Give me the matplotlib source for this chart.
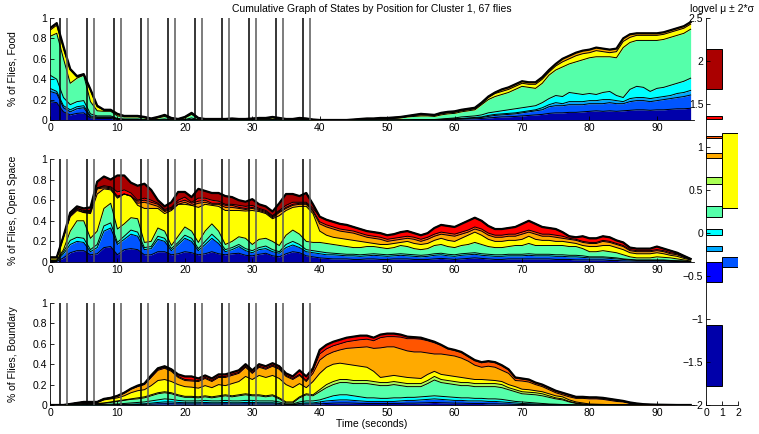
import matplotlib
matplotlib.use('Agg')
import matplotlib.pyplot as plt
import numpy as np

plt.rcParams['font.family'] = ['Liberation Sans', 'DejaVu Sans']
plt.rcParams['font.size'] = 7.5

# jet(12): state 1 (slowest) .. state 12 (fastest)
state_colors = [(0, 0, 0.667), (0, 0, 1), (0, 0.333, 1), (0, 0.667, 1),
                (0, 1, 1), (0.333, 1, 0.667), (0.667, 1, 0.333), (1, 1, 0),
                (1, 0.667, 0), (1, 0.333, 0), (1, 0, 0), (0.667, 0, 0)]

time_s = np.arange(0, 96)

# cumulative fraction of flies up to state k, one value per second
food_c1 = [0.18, 0.17, 0.08, 0.05, 0.065, 0.07, 0.02, 0.015, 0.015, 0.015,
           0.005, 0.002, 0.002, 0.002, 0, 0, 0, 0, 0, 0,
           0, 0, 0, 0, 0, 0, 0, 0, 0, 0,
           0, 0, 0, 0, 0, 0, 0, 0, 0, 0,
           0, 0, 0, 0, 0, 0, 0, 0, 0, 0,
           0, 0, 0, 0, 0, 0, 0, 0, 0.003, 0.005,
           0.006, 0.008, 0.01, 0.012, 0.015, 0.02, 0.025, 0.03, 0.032, 0.035,
           0.04, 0.045, 0.05, 0.055, 0.065, 0.07, 0.07, 0.075, 0.075, 0.08,
           0.085, 0.09, 0.085, 0.09, 0.085, 0.09, 0.095, 0.10, 0.10, 0.095,
           0.10, 0.10, 0.105, 0.11, 0.11, 0.115]
food_c3 = [0.28, 0.26, 0.12, 0.08, 0.11, 0.12, 0.03, 0.025, 0.025, 0.025,
           0.008, 0.004, 0.004, 0.004, 0, 0, 0, 0, 0, 0,
           0, 0, 0, 0, 0, 0, 0, 0, 0, 0,
           0, 0, 0, 0, 0, 0, 0, 0, 0, 0,
           0, 0, 0, 0, 0, 0, 0, 0, 0, 0,
           0, 0, 0, 0, 0, 0, 0, 0, 0.004, 0.008,
           0.01, 0.012, 0.015, 0.02, 0.025, 0.035, 0.045, 0.05, 0.055, 0.06,
           0.07, 0.08, 0.09, 0.10, 0.13, 0.14, 0.14, 0.15, 0.15, 0.15,
           0.16, 0.16, 0.16, 0.17, 0.16, 0.16, 0.18, 0.19, 0.19, 0.18,
           0.19, 0.20, 0.21, 0.22, 0.23, 0.245]
food_c4 = [0.31, 0.28, 0.14, 0.10, 0.13, 0.14, 0.04, 0.03, 0.03, 0.03,
           0.01, 0.005, 0.005, 0.005, 0, 0, 0, 0, 0, 0,
           0, 0.005, 0, 0, 0, 0, 0, 0, 0, 0,
           0, 0, 0, 0, 0, 0, 0, 0, 0, 0,
           0, 0, 0, 0, 0, 0, 0, 0, 0, 0,
           0, 0, 0, 0, 0, 0, 0, 0, 0.005, 0.01,
           0.012, 0.015, 0.02, 0.025, 0.03, 0.045, 0.055, 0.06, 0.065, 0.07,
           0.08, 0.09, 0.10, 0.12, 0.15, 0.17, 0.16, 0.18, 0.18, 0.18,
           0.19, 0.19, 0.20, 0.20, 0.19, 0.18, 0.21, 0.22, 0.22, 0.21,
           0.22, 0.23, 0.24, 0.26, 0.27, 0.29]
food_c5 = [0.44, 0.40, 0.22, 0.15, 0.18, 0.19, 0.06, 0.04, 0.04, 0.04,
           0.015, 0.01, 0.01, 0.01, 0.005, 0, 0.005, 0.01, 0, 0,
           0.005, 0.02, 0, 0, 0, 0, 0, 0, 0, 0,
           0, 0, 0, 0.005, 0, 0, 0, 0, 0, 0,
           0, 0, 0, 0, 0, 0, 0, 0, 0, 0,
           0, 0, 0, 0, 0.005, 0.005, 0.005, 0.005, 0.01, 0.015,
           0.02, 0.03, 0.035, 0.04, 0.05, 0.07, 0.08, 0.09, 0.10, 0.11,
           0.12, 0.13, 0.14, 0.17, 0.21, 0.24, 0.23, 0.27, 0.26, 0.25,
           0.26, 0.25, 0.27, 0.28, 0.24, 0.22, 0.30, 0.33, 0.32, 0.28,
           0.31, 0.32, 0.34, 0.36, 0.38, 0.41]
food_c6 = [0.82, 0.85, 0.60, 0.36, 0.41, 0.44, 0.18, 0.09, 0.085, 0.085,
           0.04, 0.03, 0.03, 0.03, 0.02, 0.005, 0.02, 0.035, 0.01, 0.005,
           0.02, 0.055, 0.01, 0.005, 0.005, 0.005, 0.005, 0.008, 0.005, 0.005,
           0.008, 0.01, 0.01, 0.02, 0.01, 0.005, 0.005, 0.01, 0.008, 0,
           0, 0, 0, 0, 0, 0.003, 0.006, 0.01, 0.01, 0.012,
           0.012, 0.015, 0.02, 0.03, 0.035, 0.04, 0.04, 0.035, 0.05, 0.06,
           0.065, 0.08, 0.09, 0.10, 0.15, 0.20, 0.23, 0.25, 0.27, 0.30,
           0.33, 0.32, 0.31, 0.36, 0.44, 0.49, 0.52, 0.55, 0.57, 0.59,
           0.61, 0.62, 0.62, 0.62, 0.61, 0.71, 0.76, 0.78, 0.78, 0.78,
           0.78, 0.79, 0.81, 0.83, 0.85, 0.89]
food_c8 = [0.88, 0.93, 0.70, 0.49, 0.42, 0.44, 0.29, 0.13, 0.095, 0.095,
           0.055, 0.035, 0.035, 0.035, 0.025, 0.01, 0.025, 0.045, 0.015, 0.008,
           0.025, 0.065, 0.015, 0.008, 0.008, 0.008, 0.008, 0.012, 0.008, 0.008,
           0.012, 0.015, 0.015, 0.025, 0.015, 0.008, 0.008, 0.015, 0.012, 0.003,
           0, 0, 0, 0, 0, 0.004, 0.008, 0.012, 0.012, 0.015,
           0.015, 0.02, 0.025, 0.035, 0.045, 0.05, 0.05, 0.045, 0.06, 0.07,
           0.075, 0.09, 0.10, 0.11, 0.16, 0.22, 0.26, 0.28, 0.30, 0.33,
           0.36, 0.35, 0.35, 0.40, 0.47, 0.53, 0.57, 0.60, 0.63, 0.65,
           0.66, 0.68, 0.67, 0.66, 0.67, 0.77, 0.81, 0.83, 0.83, 0.83,
           0.83, 0.84, 0.86, 0.88, 0.90, 0.94]
food_top = [0.90, 0.95, 0.72, 0.50, 0.43, 0.45, 0.30, 0.14, 0.10, 0.10,
            0.06, 0.04, 0.04, 0.04, 0.03, 0.015, 0.03, 0.05, 0.02, 0.01,
            0.03, 0.07, 0.02, 0.01, 0.01, 0.01, 0.01, 0.015, 0.01, 0.01,
            0.015, 0.02, 0.02, 0.03, 0.02, 0.01, 0.01, 0.02, 0.015, 0.005,
            0, 0, 0, 0, 0, 0.005, 0.01, 0.015, 0.015, 0.02,
            0.02, 0.025, 0.03, 0.04, 0.05, 0.06, 0.055, 0.05, 0.07, 0.08,
            0.085, 0.10, 0.11, 0.12, 0.17, 0.23, 0.27, 0.30, 0.32, 0.35,
            0.38, 0.37, 0.37, 0.42, 0.49, 0.55, 0.60, 0.63, 0.66, 0.68,
            0.69, 0.71, 0.70, 0.69, 0.70, 0.80, 0.84, 0.85, 0.85, 0.85,
            0.85, 0.86, 0.88, 0.90, 0.92, 0.96]

open_c1 = [0.005, 0.005, 0.04, 0.09, 0.11, 0.11, 0.07, 0.08, 0.14, 0.15,
           0.07, 0.12, 0.13, 0.12, 0.07, 0.07, 0.10, 0.10, 0.07, 0.08,
           0.10, 0.09, 0.07, 0.08, 0.10, 0.08, 0.07, 0.08, 0.085, 0.065,
           0.06, 0.075, 0.085, 0.06, 0.05, 0.08, 0.10, 0.09, 0.06, 0.05,
           0.04, 0.035, 0.03, 0.03, 0.03, 0.025, 0.025, 0.03, 0.03, 0.025,
           0.025, 0.03, 0.03, 0.03, 0.025, 0.025, 0.025, 0.03, 0.035, 0.03,
           0.025, 0.03, 0.035, 0.04, 0.035, 0.03, 0.025, 0.025, 0.03, 0.03,
           0.03, 0.03, 0.03, 0.03, 0.03, 0.025, 0.025, 0.025, 0.02, 0.02,
           0.02, 0.02, 0.02, 0.015, 0.015, 0.01, 0.01, 0.008, 0.008, 0.008,
           0.008, 0.008, 0.006, 0.005, 0.004, 0.002]
open_c3 = [0.01, 0.01, 0.08, 0.17, 0.20, 0.19, 0.10, 0.14, 0.30, 0.33,
           0.17, 0.22, 0.27, 0.25, 0.12, 0.13, 0.22, 0.20, 0.11, 0.17,
           0.23, 0.20, 0.11, 0.17, 0.23, 0.18, 0.10, 0.12, 0.15, 0.11,
           0.09, 0.12, 0.13, 0.10, 0.085, 0.14, 0.165, 0.14, 0.10, 0.09,
           0.08, 0.07, 0.07, 0.065, 0.06, 0.06, 0.055, 0.06, 0.065, 0.06,
           0.055, 0.06, 0.065, 0.06, 0.055, 0.05, 0.055, 0.065, 0.07, 0.06,
           0.055, 0.065, 0.07, 0.075, 0.065, 0.06, 0.055, 0.055, 0.06, 0.06,
           0.06, 0.065, 0.06, 0.06, 0.06, 0.055, 0.055, 0.05, 0.05, 0.045,
           0.04, 0.04, 0.04, 0.035, 0.03, 0.025, 0.02, 0.015, 0.015, 0.015,
           0.015, 0.015, 0.012, 0.01, 0.008, 0.004]
open_c5 = [0.015, 0.015, 0.10, 0.21, 0.24, 0.23, 0.12, 0.17, 0.35, 0.38,
           0.19, 0.25, 0.31, 0.29, 0.14, 0.15, 0.25, 0.23, 0.13, 0.19,
           0.26, 0.23, 0.13, 0.20, 0.27, 0.21, 0.12, 0.14, 0.17, 0.13,
           0.11, 0.14, 0.155, 0.12, 0.10, 0.17, 0.20, 0.17, 0.12, 0.11,
           0.10, 0.09, 0.085, 0.08, 0.075, 0.075, 0.07, 0.075, 0.08, 0.075,
           0.07, 0.075, 0.08, 0.075, 0.07, 0.065, 0.07, 0.08, 0.085, 0.075,
           0.07, 0.08, 0.085, 0.09, 0.08, 0.075, 0.07, 0.07, 0.075, 0.075,
           0.075, 0.08, 0.075, 0.075, 0.075, 0.07, 0.07, 0.065, 0.065, 0.06,
           0.05, 0.05, 0.05, 0.045, 0.04, 0.03, 0.025, 0.02, 0.02, 0.02,
           0.02, 0.02, 0.015, 0.012, 0.01, 0.005]
open_c6 = [0.02, 0.02, 0.12, 0.30, 0.40, 0.40, 0.23, 0.30, 0.52, 0.57,
           0.32, 0.37, 0.43, 0.42, 0.19, 0.20, 0.33, 0.30, 0.16, 0.25,
           0.34, 0.30, 0.19, 0.30, 0.37, 0.30, 0.17, 0.20, 0.245, 0.23,
           0.17, 0.22, 0.23, 0.20, 0.16, 0.26, 0.31, 0.27, 0.20, 0.19,
           0.19, 0.18, 0.17, 0.16, 0.15, 0.14, 0.14, 0.15, 0.15, 0.14,
           0.13, 0.14, 0.16, 0.15, 0.13, 0.12, 0.13, 0.16, 0.17, 0.15,
           0.14, 0.16, 0.17, 0.19, 0.17, 0.15, 0.14, 0.14, 0.15, 0.16,
           0.16, 0.18, 0.16, 0.16, 0.16, 0.16, 0.16, 0.15, 0.15, 0.13,
           0.10, 0.10, 0.11, 0.10, 0.09, 0.07, 0.05, 0.04, 0.04, 0.04,
           0.05, 0.045, 0.04, 0.03, 0.02, 0.01]
open_c8 = [0.04, 0.04, 0.24, 0.44, 0.50, 0.48, 0.47, 0.66, 0.71, 0.70,
           0.62, 0.66, 0.64, 0.55, 0.52, 0.52, 0.52, 0.47, 0.50, 0.56,
           0.56, 0.55, 0.53, 0.56, 0.55, 0.54, 0.50, 0.50, 0.50, 0.495,
           0.50, 0.49, 0.47, 0.42, 0.45, 0.50, 0.53, 0.54, 0.54, 0.47,
           0.30, 0.26, 0.24, 0.23, 0.22, 0.21, 0.20, 0.19, 0.18, 0.17,
           0.17, 0.18, 0.19, 0.20, 0.18, 0.17, 0.18, 0.21, 0.23, 0.21,
           0.20, 0.23, 0.26, 0.29, 0.26, 0.22, 0.20, 0.20, 0.21, 0.21,
           0.22, 0.25, 0.22, 0.21, 0.21, 0.20, 0.20, 0.19, 0.18, 0.16,
           0.15, 0.15, 0.16, 0.16, 0.14, 0.12, 0.09, 0.08, 0.08, 0.08,
           0.09, 0.08, 0.065, 0.055, 0.035, 0.02]
open_c9 = [0.045, 0.045, 0.25, 0.45, 0.51, 0.48, 0.48, 0.71, 0.72, 0.71,
           0.63, 0.65, 0.63, 0.57, 0.58, 0.56, 0.54, 0.49, 0.51, 0.56,
           0.58, 0.55, 0.57, 0.58, 0.56, 0.56, 0.53, 0.53, 0.52, 0.51,
           0.52, 0.50, 0.48, 0.43, 0.48, 0.52, 0.55, 0.56, 0.56, 0.49,
           0.37, 0.34, 0.32, 0.30, 0.29, 0.28, 0.26, 0.24, 0.23, 0.22,
           0.20, 0.21, 0.22, 0.23, 0.22, 0.20, 0.22, 0.25, 0.27, 0.26,
           0.25, 0.27, 0.29, 0.32, 0.30, 0.26, 0.24, 0.24, 0.25, 0.25,
           0.27, 0.29, 0.27, 0.25, 0.25, 0.24, 0.23, 0.22, 0.21, 0.19,
           0.18, 0.18, 0.20, 0.19, 0.17, 0.15, 0.11, 0.10, 0.10, 0.10,
           0.11, 0.10, 0.08, 0.07, 0.045, 0.025]
open_c10 = [0.045, 0.045, 0.25, 0.46, 0.52, 0.49, 0.49, 0.72, 0.73, 0.72,
            0.64, 0.66, 0.64, 0.59, 0.60, 0.58, 0.56, 0.50, 0.52, 0.58,
            0.60, 0.57, 0.59, 0.60, 0.57, 0.57, 0.55, 0.55, 0.53, 0.52,
            0.53, 0.51, 0.49, 0.44, 0.49, 0.53, 0.56, 0.57, 0.57, 0.50,
            0.39, 0.36, 0.34, 0.32, 0.31, 0.30, 0.28, 0.26, 0.25, 0.24,
            0.22, 0.23, 0.24, 0.25, 0.24, 0.22, 0.24, 0.27, 0.29, 0.28,
            0.27, 0.29, 0.31, 0.34, 0.32, 0.28, 0.26, 0.26, 0.27, 0.27,
            0.29, 0.31, 0.29, 0.27, 0.27, 0.26, 0.25, 0.23, 0.22, 0.20,
            0.19, 0.19, 0.21, 0.20, 0.18, 0.16, 0.12, 0.11, 0.11, 0.11,
            0.12, 0.11, 0.09, 0.08, 0.05, 0.03]
open_c11 = [0.045, 0.045, 0.25, 0.46, 0.52, 0.50, 0.50, 0.72, 0.74, 0.73,
            0.68, 0.70, 0.67, 0.60, 0.62, 0.60, 0.57, 0.51, 0.53, 0.60,
            0.63, 0.58, 0.62, 0.62, 0.60, 0.59, 0.56, 0.56, 0.55, 0.54,
            0.55, 0.52, 0.50, 0.45, 0.50, 0.55, 0.58, 0.58, 0.58, 0.52,
            0.44, 0.41, 0.39, 0.37, 0.36, 0.34, 0.32, 0.30, 0.29, 0.28,
            0.26, 0.27, 0.29, 0.30, 0.28, 0.26, 0.28, 0.33, 0.36, 0.35,
            0.34, 0.37, 0.40, 0.43, 0.40, 0.35, 0.32, 0.32, 0.33, 0.34,
            0.37, 0.40, 0.37, 0.34, 0.33, 0.32, 0.29, 0.25, 0.24, 0.25,
            0.23, 0.23, 0.25, 0.24, 0.21, 0.19, 0.14, 0.13, 0.13, 0.13,
            0.15, 0.13, 0.11, 0.09, 0.06, 0.03]
open_top = [0.045, 0.045, 0.25, 0.48, 0.54, 0.52, 0.53, 0.78, 0.83, 0.80,
            0.84, 0.84, 0.77, 0.74, 0.76, 0.70, 0.60, 0.54, 0.58, 0.68,
            0.68, 0.63, 0.71, 0.69, 0.67, 0.67, 0.64, 0.63, 0.60, 0.585,
            0.61, 0.56, 0.54, 0.49, 0.57, 0.66, 0.66, 0.64, 0.67, 0.56,
            0.44, 0.41, 0.39, 0.37, 0.36, 0.34, 0.32, 0.30, 0.29, 0.28,
            0.26, 0.27, 0.29, 0.30, 0.28, 0.26, 0.28, 0.33, 0.36, 0.35,
            0.34, 0.37, 0.40, 0.43, 0.40, 0.35, 0.32, 0.32, 0.33, 0.34,
            0.37, 0.40, 0.37, 0.34, 0.33, 0.32, 0.29, 0.25, 0.24, 0.25,
            0.23, 0.23, 0.25, 0.24, 0.21, 0.19, 0.14, 0.13, 0.13, 0.13,
            0.15, 0.13, 0.11, 0.09, 0.06, 0.03]

bound_c1 = [0, 0, 0, 0, 0, 0, 0, 0, 0, 0,
            0.002, 0.003, 0.004, 0.005, 0.006, 0.008, 0.01, 0.012, 0.012, 0.01,
            0.01, 0.01, 0.01, 0.01, 0.01, 0.01, 0.01, 0.01, 0.01, 0.01,
            0.01, 0.01, 0.01, 0.01, 0.008, 0.003, 0.003, 0.008, 0.01, 0.01,
            0.012, 0.015, 0.018, 0.02, 0.02, 0.018, 0.016, 0.015, 0.015, 0.015,
            0.015, 0.015, 0.016, 0.018, 0.018, 0.02, 0.022, 0.025, 0.022, 0.02,
            0.018, 0.018, 0.016, 0.015, 0.015, 0.012, 0.012, 0.01, 0.008, 0.006,
            0.005, 0.004, 0.003, 0.002, 0.001, 0.001, 0, 0, 0, 0,
            0, 0, 0, 0, 0, 0, 0, 0, 0, 0,
            0, 0, 0, 0, 0, 0]
bound_c3 = [0, 0, 0, 0, 0, 0, 0, 0, 0, 0,
            0.004, 0.006, 0.008, 0.01, 0.012, 0.018, 0.025, 0.03, 0.03, 0.025,
            0.022, 0.022, 0.022, 0.025, 0.022, 0.022, 0.025, 0.022, 0.022, 0.025,
            0.025, 0.022, 0.022, 0.022, 0.015, 0.005, 0.005, 0.015, 0.02, 0.02,
            0.03, 0.04, 0.045, 0.05, 0.05, 0.045, 0.04, 0.035, 0.035, 0.035,
            0.035, 0.035, 0.04, 0.045, 0.045, 0.05, 0.055, 0.06, 0.055, 0.05,
            0.045, 0.045, 0.04, 0.04, 0.04, 0.035, 0.035, 0.03, 0.025, 0.02,
            0.015, 0.012, 0.01, 0.008, 0.005, 0.004, 0.002, 0.001, 0, 0,
            0, 0, 0, 0, 0, 0, 0, 0, 0, 0,
            0, 0, 0, 0, 0, 0]
bound_c5 = [0, 0, 0, 0, 0.002, 0.004, 0.004, 0.004, 0.006, 0.008,
            0.01, 0.015, 0.02, 0.025, 0.03, 0.04, 0.05, 0.06, 0.055, 0.045,
            0.04, 0.04, 0.04, 0.045, 0.04, 0.04, 0.045, 0.04, 0.04, 0.045,
            0.045, 0.04, 0.04, 0.04, 0.03, 0.01, 0.01, 0.03, 0.04, 0.04,
            0.05, 0.07, 0.09, 0.10, 0.10, 0.09, 0.08, 0.07, 0.07, 0.065,
            0.065, 0.07, 0.07, 0.075, 0.075, 0.08, 0.085, 0.09, 0.085, 0.08,
            0.075, 0.07, 0.07, 0.065, 0.065, 0.06, 0.06, 0.055, 0.045, 0.035,
            0.03, 0.025, 0.02, 0.015, 0.01, 0.008, 0.005, 0.003, 0.001, 0,
            0, 0, 0, 0, 0, 0, 0, 0, 0, 0,
            0, 0, 0, 0, 0, 0]
bound_c6 = [0, 0, 0, 0.004, 0.008, 0.012, 0.012, 0.012, 0.017, 0.025,
            0.035, 0.045, 0.055, 0.06, 0.07, 0.09, 0.11, 0.12, 0.11, 0.09,
            0.075, 0.075, 0.07, 0.08, 0.07, 0.08, 0.09, 0.08, 0.09, 0.10,
            0.09, 0.09, 0.08, 0.09, 0.06, 0.02, 0.02, 0.07, 0.10, 0.09,
            0.13, 0.17, 0.20, 0.22, 0.22, 0.21, 0.21, 0.21, 0.20, 0.19,
            0.19, 0.20, 0.19, 0.18, 0.18, 0.18, 0.21, 0.245, 0.22, 0.21,
            0.20, 0.19, 0.19, 0.18, 0.18, 0.18, 0.18, 0.17, 0.15, 0.13,
            0.11, 0.105, 0.10, 0.09, 0.075, 0.06, 0.05, 0.03, 0.015, 0.008,
            0.004, 0.003, 0.002, 0.001, 0, 0, 0, 0, 0, 0,
            0, 0, 0, 0, 0, 0]
bound_c7 = [0, 0, 0, 0.005, 0.01, 0.015, 0.015, 0.015, 0.02, 0.03,
            0.04, 0.05, 0.06, 0.07, 0.08, 0.10, 0.12, 0.13, 0.12, 0.10,
            0.085, 0.085, 0.08, 0.09, 0.08, 0.09, 0.10, 0.09, 0.10, 0.11,
            0.10, 0.10, 0.09, 0.10, 0.07, 0.03, 0.03, 0.08, 0.11, 0.10,
            0.15, 0.20, 0.23, 0.25, 0.25, 0.24, 0.24, 0.24, 0.23, 0.22,
            0.22, 0.23, 0.22, 0.21, 0.21, 0.21, 0.24, 0.28, 0.25, 0.24,
            0.23, 0.22, 0.22, 0.21, 0.21, 0.21, 0.21, 0.20, 0.17, 0.15,
            0.13, 0.125, 0.12, 0.11, 0.09, 0.07, 0.06, 0.035, 0.02, 0.01,
            0.005, 0.004, 0.003, 0.002, 0.001, 0, 0, 0, 0, 0,
            0, 0, 0, 0, 0, 0]
bound_c8 = [0, 0, 0, 0.01, 0.02, 0.025, 0.025, 0.025, 0.05, 0.06,
            0.07, 0.09, 0.12, 0.14, 0.15, 0.19, 0.24, 0.25, 0.23, 0.20,
            0.18, 0.175, 0.165, 0.19, 0.17, 0.20, 0.19, 0.21, 0.23, 0.28,
            0.25, 0.29, 0.27, 0.29, 0.26, 0.20, 0.17, 0.21, 0.17, 0.23,
            0.31, 0.37, 0.40, 0.41, 0.40, 0.39, 0.38, 0.37, 0.33, 0.27,
            0.28, 0.29, 0.28, 0.27, 0.265, 0.26, 0.30, 0.33, 0.30, 0.29,
            0.28, 0.27, 0.26, 0.25, 0.25, 0.245, 0.24, 0.23, 0.20, 0.18,
            0.155, 0.15, 0.14, 0.13, 0.11, 0.09, 0.08, 0.05, 0.03, 0.02,
            0.01, 0.008, 0.006, 0.004, 0.003, 0.002, 0, 0, 0, 0,
            0, 0, 0, 0, 0, 0]
bound_c9 = [0, 0, 0, 0.01, 0.02, 0.03, 0.03, 0.03, 0.06, 0.07,
            0.085, 0.115, 0.155, 0.18, 0.20, 0.27, 0.34, 0.36, 0.33, 0.27,
            0.24, 0.235, 0.23, 0.26, 0.23, 0.27, 0.27, 0.29, 0.31, 0.37,
            0.31, 0.37, 0.35, 0.38, 0.35, 0.28, 0.25, 0.29, 0.23, 0.31,
            0.44, 0.49, 0.52, 0.54, 0.555, 0.56, 0.565, 0.57, 0.555, 0.56,
            0.57, 0.57, 0.55, 0.53, 0.52, 0.52, 0.51, 0.50, 0.50, 0.49,
            0.48, 0.46, 0.43, 0.39, 0.37, 0.38, 0.37, 0.34, 0.31, 0.24,
            0.235, 0.225, 0.20, 0.18, 0.15, 0.12, 0.10, 0.08, 0.065, 0.065,
            0.06, 0.06, 0.055, 0.045, 0.035, 0.03, 0.015, 0.008, 0.004, 0.002,
            0.001, 0, 0, 0, 0, 0]
bound_c10 = [0, 0, 0, 0.01, 0.02, 0.03, 0.03, 0.03, 0.06, 0.07,
             0.09, 0.12, 0.16, 0.185, 0.205, 0.28, 0.35, 0.37, 0.34, 0.28,
             0.25, 0.245, 0.24, 0.27, 0.24, 0.28, 0.28, 0.30, 0.32, 0.38,
             0.32, 0.38, 0.36, 0.39, 0.36, 0.29, 0.26, 0.30, 0.24, 0.34,
             0.50, 0.55, 0.58, 0.60, 0.62, 0.63, 0.64, 0.645, 0.63, 0.66,
             0.67, 0.67, 0.665, 0.65, 0.65, 0.645, 0.63, 0.61, 0.585, 0.55,
             0.535, 0.515, 0.475, 0.435, 0.415, 0.425, 0.415, 0.385, 0.345, 0.265,
             0.255, 0.245, 0.215, 0.195, 0.165, 0.135, 0.115, 0.095, 0.075, 0.075,
             0.07, 0.07, 0.065, 0.055, 0.045, 0.035, 0.02, 0.012, 0.006, 0.004,
             0.002, 0.001, 0, 0, 0, 0]
bound_top = [0, 0, 0, 0.01, 0.02, 0.03, 0.03, 0.03, 0.06, 0.07,
             0.09, 0.12, 0.16, 0.19, 0.21, 0.29, 0.36, 0.38, 0.35, 0.30,
             0.28, 0.28, 0.26, 0.29, 0.26, 0.30, 0.30, 0.32, 0.34, 0.40,
             0.34, 0.40, 0.38, 0.41, 0.38, 0.31, 0.28, 0.34, 0.28, 0.36,
             0.54, 0.59, 0.62, 0.64, 0.66, 0.67, 0.68, 0.68, 0.66, 0.69,
             0.70, 0.70, 0.69, 0.67, 0.665, 0.66, 0.64, 0.62, 0.59, 0.555,
             0.54, 0.52, 0.48, 0.44, 0.42, 0.43, 0.42, 0.39, 0.35, 0.27,
             0.26, 0.25, 0.22, 0.20, 0.17, 0.14, 0.12, 0.10, 0.08, 0.08,
             0.075, 0.075, 0.07, 0.06, 0.05, 0.04, 0.025, 0.015, 0.008, 0.005,
             0.003, 0.002, 0.001, 0, 0, 0]

# stimulus on / off times (seconds)
stim_on = [1.5, 5.5, 9.5, 13.5, 17.5, 21.5, 25.5, 29.5, 33.5, 37.5]
stim_off = [2.5, 6.5, 10.5, 14.5, 18.5, 22.5, 26.5, 30.5, 34.5, 38.5]

# logvel mean +- 2 sigma per state
bar_state = [1, 2, 3, 4, 5, 6, 7, 8, 9, 10, 11, 12]
bar_lo = [-1.78, -0.57, -0.40, -0.21, -0.02, 0.19, 0.57, 0.29, 0.87, 1.10, 1.32, 1.67]
bar_hi = [-1.07, -0.34, -0.28, -0.15, 0.05, 0.31, 0.65, 1.16, 0.93, 1.13, 1.36, 2.14]
bar_col = [0, 0, 1, 0, 0, 0, 0, 1, 0, 0, 0, 0]

panels = [
    ('% of Flies, Food', [(1, food_c1), (3, food_c3), (4, food_c4), (5, food_c5),
                          (6, food_c6), (8, food_c8), (9, food_top)]),
    ('% of Flies, Open Space', [(1, open_c1), (3, open_c3), (5, open_c5), (6, open_c6),
                                (8, open_c8), (9, open_c9), (10, open_c10),
                                (11, open_c11), (12, open_top)]),
    ('% of Flies, Boundary', [(1, bound_c1), (3, bound_c3), (5, bound_c5), (6, bound_c6),
                              (7, bound_c7), (8, bound_c8), (9, bound_c9),
                              (10, bound_c10), (11, bound_top)]),
]

fig = plt.figure(figsize=(7.59, 4.34), dpi=100)
W, H = 759.0, 434.0
axes_px = [(18, 120), (159, 262), (303, 405)]


def matlab_style(ax):
    for s in ['top', 'right']:
        ax.spines[s].set_visible(False)
    for s in ['left', 'bottom']:
        ax.spines[s].set_linewidth(0.6)
    ax.tick_params(direction='in', length=3, width=0.6, pad=2, labelsize=7.5)


for i, (ylabel, layers) in enumerate(panels):
    top_px, bot_px = axes_px[i]
    ax = fig.add_axes([50 / W, (H - bot_px) / H, 644 / W, (bot_px - top_px) / H])
    prev = np.zeros(len(time_s))
    for state, cum in layers:
        cur = np.maximum(np.array(cum, dtype=float), prev)
        ax.fill_between(time_s, prev, cur, color=state_colors[state - 1],
                        linewidth=0, zorder=1)
        ax.plot(time_s, cur, color='k', lw=0.7, zorder=2)
        prev = cur
    ax.plot(time_s, prev, color='k', lw=1.6, zorder=2)
    for t in stim_on:
        ax.axvline(t, color='k', lw=1.1, zorder=3)
    for t in stim_off:
        ax.axvline(t, color='0.35', lw=1.1, zorder=3)
    ax.set_xlim(0, 95.5)
    ax.set_ylim(0, 1)
    ax.set_xticks(range(0, 91, 10))
    ax.set_yticks([0, 0.2, 0.4, 0.6, 0.8, 1])
    ax.set_yticklabels(['0', '0.2', '0.4', '0.6', '0.8', '1'])
    ax.set_ylabel(ylabel, fontsize=7.5)
    ax.yaxis.set_label_coords(-0.05, 0.5)
    matlab_style(ax)
    if i == 0:
        ax.set_title('Cumulative Graph of States by Position for Cluster 1, 67 flies',
                     fontsize=7.5, pad=4)
    if i == 2:
        ax.set_xlabel('Time (seconds)', fontsize=7.5, labelpad=1)

# right panel: logvel per state
axr = fig.add_axes([706 / W, (H - 405) / H, 32 / W, 387 / H])
for st, lo, hi, col in zip(bar_state, bar_lo, bar_hi, bar_col):
    axr.bar(col, hi - lo, bottom=lo, width=1, align='edge',
            color=state_colors[st - 1], edgecolor='k', linewidth=0.7)
axr.set_xlim(0, 2)
axr.set_ylim(-2, 2.5)
axr.set_xticks([0, 1, 2])
rticks = [-2, -1.5, -1, -0.5, 0, 0.5, 1, 1.5, 2, 2.5]
axr.set_yticks(rticks)
axr.set_yticklabels([f'{v:g}'.replace('-', '\u2212') for v in rticks])
matlab_style(axr)
axr.set_title('logvel \u03bc \u00b1 2*\u03c3', fontsize=7.5, pad=4)

fig.savefig('out.png', dpi=100)
